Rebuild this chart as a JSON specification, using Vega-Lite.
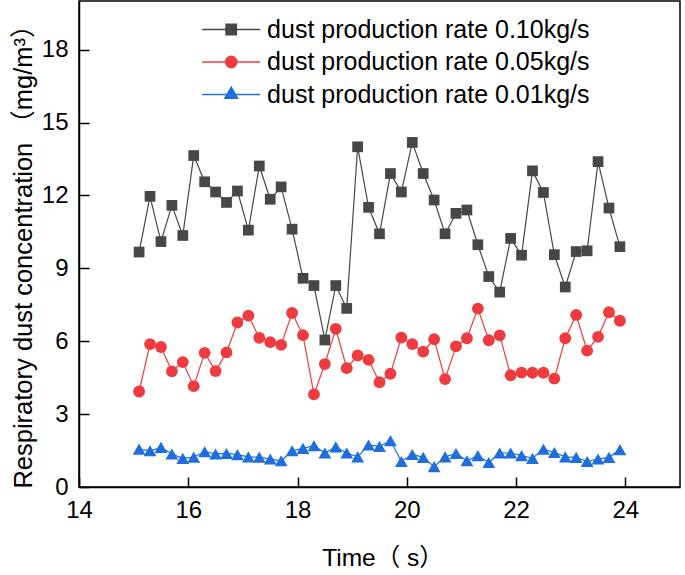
{
  "$schema": "https://vega.github.io/schema/vega-lite/v6.json",
  "width": 601,
  "height": 486,
  "autosize": "none",
  "padding": {"left": 79, "top": 1, "right": 5, "bottom": 88},
  "background": "white",
  "data": {"values": [
    {"t":15.1,"r":"0.10","v":9.67},{"t":15.3,"r":"0.10","v":11.96},{"t":15.5,"r":"0.10","v":10.10},{"t":15.7,"r":"0.10","v":11.59},{"t":15.9,"r":"0.10","v":10.35},
    {"t":16.1,"r":"0.10","v":13.64},{"t":16.3,"r":"0.10","v":12.56},{"t":16.5,"r":"0.10","v":12.14},{"t":16.7,"r":"0.10","v":11.71},{"t":16.9,"r":"0.10","v":12.18},
    {"t":17.1,"r":"0.10","v":10.57},{"t":17.3,"r":"0.10","v":13.21},{"t":17.5,"r":"0.10","v":11.84},{"t":17.7,"r":"0.10","v":12.35},{"t":17.9,"r":"0.10","v":10.61},
    {"t":18.1,"r":"0.10","v":8.59},{"t":18.3,"r":"0.10","v":8.29},{"t":18.5,"r":"0.10","v":6.05},{"t":18.7,"r":"0.10","v":8.29},{"t":18.9,"r":"0.10","v":7.35},
    {"t":19.1,"r":"0.10","v":14.0},{"t":19.3,"r":"0.10","v":11.51},{"t":19.5,"r":"0.10","v":10.42},{"t":19.7,"r":"0.10","v":12.90},{"t":19.9,"r":"0.10","v":12.14},
    {"t":20.1,"r":"0.10","v":14.18},{"t":20.3,"r":"0.10","v":12.90},{"t":20.5,"r":"0.10","v":11.81},{"t":20.7,"r":"0.10","v":10.42},{"t":20.9,"r":"0.10","v":11.26},
    {"t":21.1,"r":"0.10","v":11.40},{"t":21.3,"r":"0.10","v":9.97},{"t":21.5,"r":"0.10","v":8.66},{"t":21.7,"r":"0.10","v":8.02},{"t":21.9,"r":"0.10","v":10.23},
    {"t":22.1,"r":"0.10","v":9.54},{"t":22.3,"r":"0.10","v":13.01},{"t":22.5,"r":"0.10","v":12.12},{"t":22.7,"r":"0.10","v":9.56},{"t":22.9,"r":"0.10","v":8.23},
    {"t":23.1,"r":"0.10","v":9.69},{"t":23.3,"r":"0.10","v":9.72},{"t":23.5,"r":"0.10","v":13.39},{"t":23.7,"r":"0.10","v":11.48},{"t":23.9,"r":"0.10","v":9.89},

    {"t":15.1,"r":"0.05","v":3.93},{"t":15.3,"r":"0.05","v":5.88},{"t":15.5,"r":"0.05","v":5.76},{"t":15.7,"r":"0.05","v":4.76},{"t":15.9,"r":"0.05","v":5.14},
    {"t":16.1,"r":"0.05","v":4.15},{"t":16.3,"r":"0.05","v":5.52},{"t":16.5,"r":"0.05","v":4.77},{"t":16.7,"r":"0.05","v":5.54},{"t":16.9,"r":"0.05","v":6.77},
    {"t":17.1,"r":"0.05","v":7.05},{"t":17.3,"r":"0.05","v":6.14},{"t":17.5,"r":"0.05","v":5.96},{"t":17.7,"r":"0.05","v":5.85},{"t":17.9,"r":"0.05","v":7.16},
    {"t":18.1,"r":"0.05","v":6.25},{"t":18.3,"r":"0.05","v":3.81},{"t":18.5,"r":"0.05","v":5.06},{"t":18.7,"r":"0.05","v":6.51},{"t":18.9,"r":"0.05","v":4.89},
    {"t":19.1,"r":"0.05","v":5.41},{"t":19.3,"r":"0.05","v":5.23},{"t":19.5,"r":"0.05","v":4.31},{"t":19.7,"r":"0.05","v":4.66},{"t":19.9,"r":"0.05","v":6.15},
    {"t":20.1,"r":"0.05","v":5.88},{"t":20.3,"r":"0.05","v":5.57},{"t":20.5,"r":"0.05","v":6.08},{"t":20.7,"r":"0.05","v":4.44},{"t":20.9,"r":"0.05","v":5.79},
    {"t":21.1,"r":"0.05","v":6.12},{"t":21.3,"r":"0.05","v":7.34},{"t":21.5,"r":"0.05","v":6.04},{"t":21.7,"r":"0.05","v":6.24},{"t":21.9,"r":"0.05","v":4.60},
    {"t":22.1,"r":"0.05","v":4.71},{"t":22.3,"r":"0.05","v":4.70},{"t":22.5,"r":"0.05","v":4.70},{"t":22.7,"r":"0.05","v":4.46},{"t":22.9,"r":"0.05","v":6.12},
    {"t":23.1,"r":"0.05","v":7.08},{"t":23.3,"r":"0.05","v":5.61},{"t":23.5,"r":"0.05","v":6.18},{"t":23.7,"r":"0.05","v":7.19},{"t":23.9,"r":"0.05","v":6.84},

    {"t":15.1,"r":"0.01","v":1.56},{"t":15.3,"r":"0.01","v":1.49},{"t":15.5,"r":"0.01","v":1.63},{"t":15.7,"r":"0.01","v":1.36},{"t":15.9,"r":"0.01","v":1.18},
    {"t":16.1,"r":"0.01","v":1.23},{"t":16.3,"r":"0.01","v":1.45},{"t":16.5,"r":"0.01","v":1.36},{"t":16.7,"r":"0.01","v":1.38},{"t":16.9,"r":"0.01","v":1.33},
    {"t":17.1,"r":"0.01","v":1.24},{"t":17.3,"r":"0.01","v":1.23},{"t":17.5,"r":"0.01","v":1.15},{"t":17.7,"r":"0.01","v":1.08},{"t":17.9,"r":"0.01","v":1.49},
    {"t":18.1,"r":"0.01","v":1.59},{"t":18.3,"r":"0.01","v":1.70},{"t":18.5,"r":"0.01","v":1.40},{"t":18.7,"r":"0.01","v":1.65},{"t":18.9,"r":"0.01","v":1.40},
    {"t":19.1,"r":"0.01","v":1.24},{"t":19.3,"r":"0.01","v":1.73},{"t":19.5,"r":"0.01","v":1.67},{"t":19.7,"r":"0.01","v":1.91},{"t":19.9,"r":"0.01","v":1.05},
    {"t":20.1,"r":"0.01","v":1.34},{"t":20.3,"r":"0.01","v":1.22},{"t":20.5,"r":"0.01","v":0.84},{"t":20.7,"r":"0.01","v":1.24},{"t":20.9,"r":"0.01","v":1.38},
    {"t":21.1,"r":"0.01","v":1.08},{"t":21.3,"r":"0.01","v":1.29},{"t":21.5,"r":"0.01","v":1.01},{"t":21.7,"r":"0.01","v":1.40},{"t":21.9,"r":"0.01","v":1.40},
    {"t":22.1,"r":"0.01","v":1.29},{"t":22.3,"r":"0.01","v":1.18},{"t":22.5,"r":"0.01","v":1.56},{"t":22.7,"r":"0.01","v":1.42},{"t":22.9,"r":"0.01","v":1.24},
    {"t":23.1,"r":"0.01","v":1.22},{"t":23.3,"r":"0.01","v":1.05},{"t":23.5,"r":"0.01","v":1.15},{"t":23.7,"r":"0.01","v":1.22},{"t":23.9,"r":"0.01","v":1.54}
  ]},
  "encoding": {
    "x": {
      "field": "t", "type": "quantitative",
      "scale": {"domain": [14, 25], "nice": false, "zero": false},
      "axis": {
        "values": [14, 16, 18, 20, 22, 24],
        "labelFlush": false,
        "title": "Time（ s）",
        "titleX": 303.5, "titleY": 78, "titleFontSize": 24.5,
        "titleAlign": "center", "titleBaseline": "alphabetic"
      }
    },
    "y": {
      "field": "v", "type": "quantitative",
      "scale": {"domain": [0, 20], "nice": false},
      "axis": {
        "values": [0, 3, 6, 9, 12, 15, 18],
        "title": "Respiratory dust concentration （mg/m³）",
        "titleX": -48, "titleY": 249, "titleFontSize": 25.5,
        "titleAngle": -90, "titleAlign": "center", "titleBaseline": "alphabetic"
      }
    }
  },
  "layer": [
    {
      "mark": {"type": "line", "strokeWidth": 1.2},
      "encoding": {
        "color": {
          "field": "r", "type": "nominal",
          "scale": {"domain": ["0.10", "0.05", "0.01"], "range": ["#474747", "#EE3B3F", "#1E6FDD"]},
          "legend": {"orient": "none", "legendX": 115.7, "legendY": 16, "title": null, "padding": 0, "direction": "vertical", "symbolOffset": 24, "labelOffset": 23.4, "rowPadding": 6.5, "labelLimit": 0, "symbolOpacity": 1, "labelFontSize": 25, "labelExpr": "'dust production rate ' + datum.label + 'kg/s'"}
        }
      }
    },
    {
      "transform": [{"filter": "datum.r === '0.01'"}],
      "mark": {"type": "point", "filled": true, "opacity": 1, "shape": "triangle-up", "size": 165, "color": "#1E6FDD"}
    },
    {
      "transform": [{"filter": "datum.r === '0.05'"}],
      "mark": {"type": "point", "filled": true, "opacity": 1, "shape": "circle", "size": 140, "color": "#EE3B3F"}
    },
    {
      "transform": [{"filter": "datum.r === '0.10'"}],
      "mark": {"type": "point", "filled": true, "opacity": 1, "shape": "square", "size": 115, "color": "#474747"}
    },
    {
      "transform": [{"filter": "datum.t > 100"}],
      "mark": {"type": "point", "filled": true},
      "encoding": {
        "fill": {
          "field": "r", "type": "nominal",
          "scale": {"domain": ["0.10", "0.05", "0.01"], "range": ["#474747", "#EE3B3F", "#1E6FDD"]},
          "legend": {"orient": "none", "legendX": 115.7, "legendY": 16, "title": null, "padding": 0, "direction": "vertical", "symbolOffset": 24, "labelOffset": 23.4, "rowPadding": 6.5, "labelLimit": 0, "symbolOpacity": 1, "labelFontSize": 25, "labelExpr": "'dust production rate ' + datum.label + 'kg/s'"}
        },
        "shape": {
          "field": "r", "type": "nominal",
          "scale": {"domain": ["0.10", "0.05", "0.01"], "range": [
            "M-5.8,0H5.8M-1.05,-1.05H1.05V1.05H-1.05Z",
            "M-5.8,0H5.8M1.15,0A1.15,1.15,0,1,1,-1.15,0A1.15,1.15,0,1,1,1.15,0Z",
            "M-5.8,0H5.8M0,-1.5L1.3,0.75L-1.3,0.75Z"
          ]},
          "legend": {"orient": "none", "legendX": 115.7, "legendY": 16, "title": null, "padding": 0, "direction": "vertical", "symbolOffset": 24, "labelOffset": 23.4, "rowPadding": 6.5, "labelLimit": 0, "symbolOpacity": 1, "labelFontSize": 25, "labelExpr": "'dust production rate ' + datum.label + 'kg/s'"}
        }
      }
    }
  ],
  "config": {
    "font": "Liberation Sans, Arial, Noto Sans CJK SC, sans-serif",
    "view": {"stroke": "#000000", "strokeWidth": 1.5},
    "axis": {
      "grid": false,
      "domainColor": "#000000", "domainWidth": 1.5,
      "tickColor": "#000000", "tickWidth": 1.5, "tickSize": -10,
      "labelFont": "Liberation Sans, Arial, sans-serif", "labelFontSize": 24, "labelColor": "#000000", "labelPadding": 21,
      "titleFont": "Liberation Sans, Arial, Noto Sans CJK SC, sans-serif", "titleFontSize": 24, "titleFontWeight": "normal", "titleColor": "#000000"
    },
    "legend": {
      "labelFont": "Liberation Sans, Arial, sans-serif", "labelFontSize": 25, "labelColor": "#000000",
      "symbolSize": 100, "symbolStrokeWidth": 1.3, "symbolOpacity": 1
    }
  }
}
